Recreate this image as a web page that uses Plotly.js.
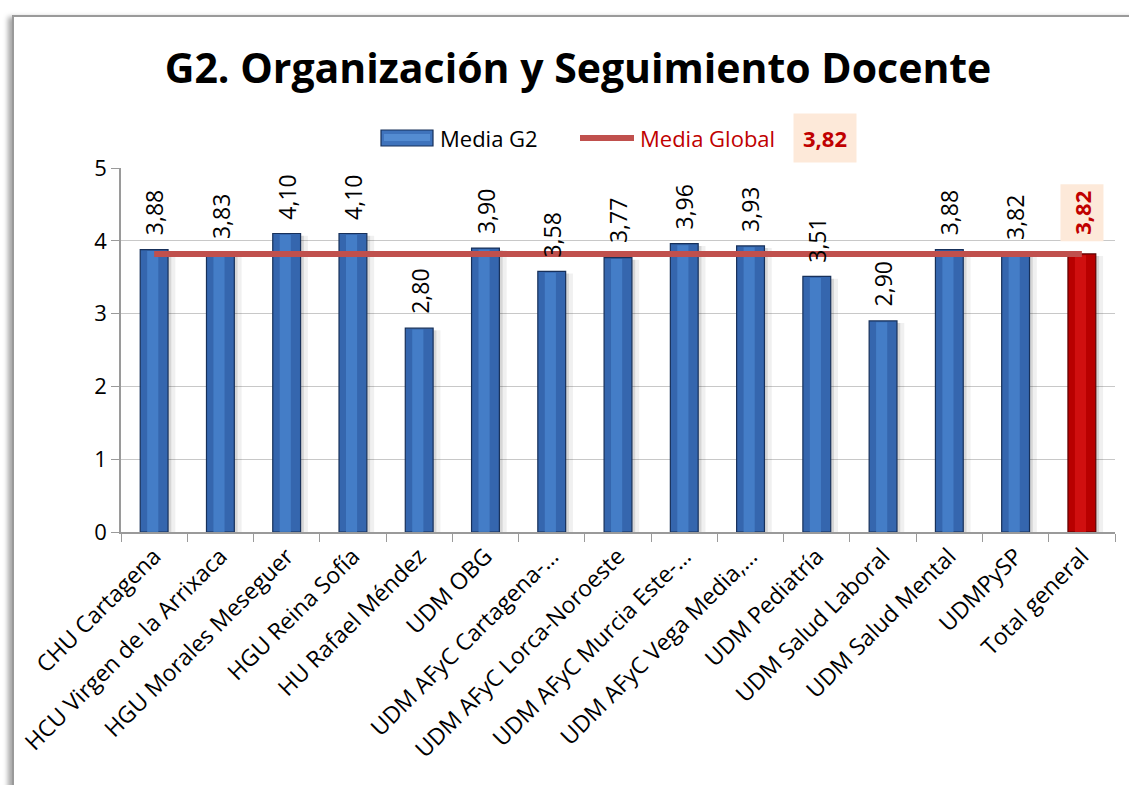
<!DOCTYPE html>
<html>
<head>
<meta charset="utf-8">
<script src="https://cdn.plot.ly/plotly-3.0.1.min.js"></script>
<style>
  html, body { margin:0; padding:0; width:1129px; height:785px; overflow:hidden; background:#fff; }
  #frame { position:absolute; left:12px; top:15px; width:1300px; height:900px;
           border-left:2px solid #9a9a9a; border-top:2px solid #9a9a9a;
           box-shadow:-4px 2px 5px rgba(0,0,0,0.35); background:#fff; }
  #chart { position:absolute; left:0; top:0; width:1129px; height:785px; }
</style>
</head>
<body>
<div id="frame"></div>
<div id="chart"></div>
<script>
const categories = [
  "CHU Cartagena",
  "HCU Virgen de la Arrixaca",
  "HGU Morales Meseguer",
  "HGU Reina Sofía",
  "HU Rafael Méndez",
  "UDM OBG",
  "UDM AFyC Cartagena-…",
  "UDM AFyC Lorca-Noroeste",
  "UDM AFyC Murcia Este-…",
  "UDM AFyC Vega Media,…",
  "UDM Pediatría",
  "UDM Salud Laboral",
  "UDM Salud Mental",
  "UDMPySP",
  "Total general"
];
const mediaG2 = [3.88, 3.83, 4.10, 4.10, 2.80, 3.90, 3.58, 3.77, 3.96, 3.93, 3.51, 2.90, 3.88, 3.82, 3.82];
const mediaGlobal = 3.82;
const yTicks = [0, 1, 2, 3, 4, 5];
const yTickLabels = ["0", "1", "2", "3", "4", "5"];
const seriesName = "Media G2";
const globalName = "Media Global";

const fmt = v => v.toFixed(2).replace('.', ',');
const lastIdx = categories.length - 1;
const isTotal = i => i === lastIdx;
const barColors = categories.map((c, i) => isTotal(i) ? '#B80000' : '#3566AE');
const barHi = categories.map((c, i) => isTotal(i) ? '#D81414' : '#4A85CF');
const barLines = categories.map((c, i) => isTotal(i) ? '#5E0000' : '#17305A');

const FONT = 'Open Sans, Lato, sans-serif';
const BW = 0.42;

// pixel helpers for legend decoration (plot area: x 121..1115, y 168..532)
const px = x => (x - 121) / 994;
const py = y => (532 - y) / 364;

const traces = [
  { // soft shadow right of each bar
    type: 'bar', x: categories, y: mediaG2.map(v => v - 0.03), width: 0.05, offset: BW / 2,
    marker: { color: 'rgba(0,0,0,0.16)', line: { width: 0 } }, hoverinfo: 'skip', showlegend: false
  },
  {
    type: 'bar', x: categories, y: mediaG2.map(v => v - 0.03), width: 0.06, offset: BW / 2 + 0.05,
    marker: { color: 'rgba(0,0,0,0.06)', line: { width: 0 } }, hoverinfo: 'skip', showlegend: false
  },
  {
    type: 'bar', name: seriesName, x: categories, y: mediaG2, width: BW, offset: -BW / 2,
    marker: { color: barColors, line: { color: barLines, width: 1.2 } }, hoverinfo: 'x+y', showlegend: false
  },
  { // central highlight for a cylinder-like look
    type: 'bar', x: categories, y: mediaG2.map(v => v - 0.02), width: BW * 0.4, offset: -BW * 0.25,
    marker: { color: barHi, opacity: 0.75, line: { width: 0 } }, hoverinfo: 'skip', showlegend: false
  },
  {
    type: 'scatter', mode: 'lines', name: globalName,
    x: categories, y: categories.map(() => mediaGlobal),
    line: { color: '#C0504D', width: 6 }, hoverinfo: 'y', showlegend: false
  }
];

const valueAnnotations = mediaG2.map((v, i) => isTotal(i) ? {
  xref: 'x', yref: 'y', x: categories[i], y: v, yanchor: 'bottom', xanchor: 'center',
  text: '<b>' + fmt(v) + '</b>', textangle: -90, showarrow: false, bgcolor: '#FDE9D9',
  borderpad: 6, yshift: 12, font: { family: FONT, size: 22, color: '#C00000' }
} : {
  xref: 'x', yref: 'y', x: categories[i], y: v, yanchor: 'bottom', xanchor: 'center',
  text: fmt(v), textangle: -90, showarrow: false, yshift: 12,
  font: { family: FONT, size: 23, color: '#000' }
});

const layout = {
  width: 1129, height: 785,
  paper_bgcolor: 'rgba(0,0,0,0)', plot_bgcolor: 'rgba(0,0,0,0)',
  margin: { l: 121, r: 14, t: 168, b: 253 },
  title: { text: '<b>G2. Organización y Seguimiento Docente</b>', x: 0.512, xanchor: 'center', y: 0.913, yanchor: 'middle',
           font: { family: FONT, size: 41, color: '#000' } },
  showlegend: false,
  barmode: 'overlay',
  xaxis: {
    type: 'category', tickangle: -45, tickson: 'boundaries', ticks: 'outside', ticklen: 8,
    tickcolor: '#9a9a9a', showline: true, linecolor: '#9a9a9a', linewidth: 1.5,
    tickfont: { family: FONT, size: 23, color: '#000' }, showgrid: false, automargin: false
  },
  yaxis: {
    range: [0, 5], tickvals: yTicks, ticktext: yTickLabels, ticks: 'outside', ticklen: 8,
    tickcolor: '#9a9a9a', showline: true, linecolor: '#9a9a9a', linewidth: 1.5,
    showgrid: true, gridcolor: '#c8c8c8', gridwidth: 1.2, zeroline: false,
    tickfont: { family: FONT, size: 22, color: '#000' }, automargin: false
  },
  shapes: [
    { type: 'rect', xref: 'paper', yref: 'paper', x0: px(381), x1: px(433), y0: py(146), y1: py(130),
      fillcolor: '#3F73BC', line: { color: '#17305A', width: 1.2 } },
    { type: 'rect', xref: 'paper', yref: 'paper', x0: px(384), x1: px(430), y0: py(141), y1: py(134),
      fillcolor: '#5E97DC', line: { width: 0 }, opacity: 0.7 },
    { type: 'line', xref: 'paper', yref: 'paper', x0: px(580), x1: px(634), y0: py(138), y1: py(138),
      line: { color: '#C0504D', width: 6 } }
  ],
  annotations: [
    { xref: 'paper', yref: 'paper', x: px(438), y: py(138), xanchor: 'left', yanchor: 'middle',
      text: seriesName, showarrow: false, font: { family: FONT, size: 22, color: '#000' } },
    { xref: 'paper', yref: 'paper', x: px(638), y: py(138), xanchor: 'left', yanchor: 'middle',
      text: globalName, showarrow: false, font: { family: FONT, size: 22, color: '#C00000' } },
    { xref: 'paper', yref: 'paper', x: px(825), y: py(138), xanchor: 'center', yanchor: 'middle',
      text: '<b>' + fmt(mediaGlobal) + '</b>', showarrow: false, bgcolor: '#FDE9D9', borderpad: 9,
      font: { family: FONT, size: 22, color: '#C00000' } }
  ].concat(valueAnnotations)
};

Plotly.newPlot('chart', traces, layout, { displayModeBar: false, responsive: false });
</script>
</body>
</html>
